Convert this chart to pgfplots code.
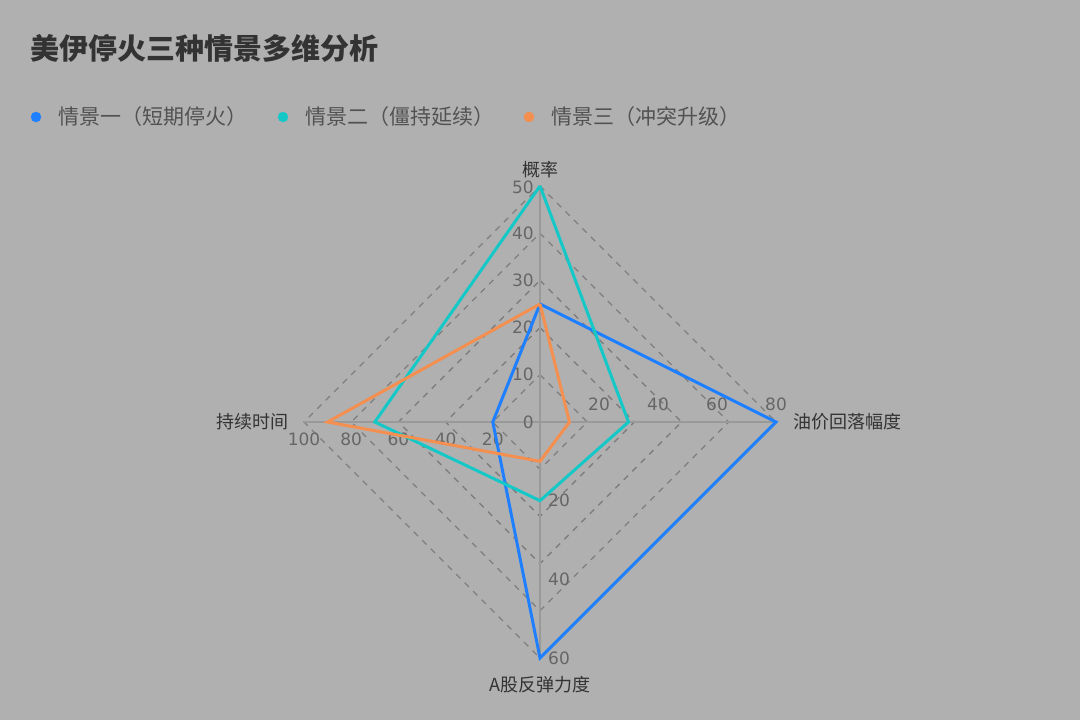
\documentclass[border=0pt]{standalone}
\usepackage{fontspec}
\setmainfont{Noto Sans CJK SC}
\newfontfamily\numfont{DejaVu Sans}
\usepackage{pgfplots}
\usepackage{pgfplotstable}
\pgfplotsset{compat=1.18}

\definecolor{bgc}{HTML}{B0B0B0}
\definecolor{sone}{HTML}{1F80FF}
\definecolor{stwo}{HTML}{14C8C8}
\definecolor{sthree}{HTML}{F58F50}
\definecolor{gridc}{HTML}{7E7E7E}
\definecolor{spoke}{HTML}{999999}
\definecolor{tickc}{HTML}{666666}
\definecolor{txtc}{HTML}{333333}

% angle (deg), value, axis maximum
\pgfplotstableread{
a v m
90 25 50
0 80 80
270 60 60
180 20 100
90 25 50
}\scenone
\pgfplotstableread{
a v m
90 50 50
0 30 80
270 20 60
180 70 100
90 50 50
}\scentwo
\pgfplotstableread{
a v m
90 25 50
0 10 80
270 10 60
180 90 100
90 25 50
}\scenthree

\pgfplotsset{radar/.style={mark=none, line width=3bp, line join=miter},
  radartab/.style={
  /pgfplots/table/x expr={540+236*\thisrow{v}/\thisrow{m}*cos(\thisrow{a})},
  /pgfplots/table/y expr={422-236*\thisrow{v}/\thisrow{m}*sin(\thisrow{a})}}}
\tikzset{
  ticklab/.style={inner sep=0pt, text=tickc, font=\numfont\fontsize{17bp}{20bp}\selectfont},
  axname/.style={inner sep=0pt, text=txtc, font=\fontsize{18bp}{21bp}\selectfont},
  legtxt/.style={inner sep=0pt, anchor=west, text=txtc!85!white, font=\fontsize{21bp}{25bp}\selectfont}}

\begin{document}
\begin{tikzpicture}
\begin{axis}[x=1bp, y=1bp, xmin=0, xmax=1080, ymin=0, ymax=720, y dir=reverse,
  hide axis, clip=false, anchor=south west, at={(0,0)}]
\fill[bgc] (axis cs:0,0) rectangle (axis cs:1080,720);

% dashed grid rings
\pgfplotsinvokeforeach{1,...,5}{
  \draw[gridc, line width=1.3bp, dash pattern=on 6bp off 6bp]
    (axis cs:540,{422-47.2*#1}) -- (axis cs:{540+47.2*#1},422) --
    (axis cs:540,{422+47.2*#1}) -- (axis cs:{540-47.2*#1},422) -- cycle;
}
% spokes
\draw[spoke, line width=1.2bp] (axis cs:540,186) -- (axis cs:540,658);
\draw[spoke, line width=1.2bp] (axis cs:304,422) -- (axis cs:776,422);

% tick labels
\node[ticklab, anchor=east] at (axis cs:534,422) {0};
\node[ticklab, anchor=east] at (axis cs:534,374.8) {10};
\node[ticklab, anchor=east] at (axis cs:534,327.6) {20};
\node[ticklab, anchor=east] at (axis cs:534,280.4) {30};
\node[ticklab, anchor=east] at (axis cs:534,233.2) {40};
\node[ticklab, anchor=east] at (axis cs:534,187) {50};
\node[ticklab, anchor=south] at (axis cs:599,411) {20};
\node[ticklab, anchor=south] at (axis cs:658,411) {40};
\node[ticklab, anchor=south] at (axis cs:717,411) {60};
\node[ticklab, anchor=south] at (axis cs:776,411) {80};
\node[ticklab, anchor=west] at (axis cs:548,500.7) {20};
\node[ticklab, anchor=west] at (axis cs:548,579.3) {40};
\node[ticklab, anchor=west] at (axis cs:548,658) {60};
\node[ticklab, anchor=north] at (axis cs:492.8,433) {20};
\node[ticklab, anchor=north] at (axis cs:445.6,433) {40};
\node[ticklab, anchor=north] at (axis cs:398.4,433) {60};
\node[ticklab, anchor=north] at (axis cs:351.2,433) {80};
\node[ticklab, anchor=north] at (axis cs:304,433) {100};

% axis names
\node[axname, anchor=south] at (axis cs:540,178) {概率};
\node[axname, anchor=west] at (axis cs:793,422) {油价回落幅度};
\node[axname, anchor=north] at (axis cs:540,676) {A股反弹力度};
\node[axname, anchor=east] at (axis cs:289,422) {持续时间};

\addplot[radar, sone] table[radartab] {\scenone};
\addplot[radar, stwo] table[radartab] {\scentwo};
\addplot[radar, sthree] table[radartab] {\scenthree};

% legend
\addplot[only marks, mark=*, mark size=5bp, sone, mark options={draw=none}] coordinates {(36,117)};
\addplot[only marks, mark=*, mark size=5bp, stwo, mark options={draw=none}] coordinates {(283,117)};
\addplot[only marks, mark=*, mark size=5bp, sthree, mark options={draw=none}] coordinates {(529,117)};
\node[legtxt] at (axis cs:58,117) {情景一（短期停火）};
\node[legtxt] at (axis cs:305,117) {情景二（僵持延续）};
\node[legtxt] at (axis cs:551,117) {情景三（冲突升级）};

% title
\node[anchor=west, inner sep=0pt, text=txtc, font=\bfseries\fontsize{29bp}{35bp}\selectfont]
  at (axis cs:30,48) {美伊停火三种情景多维分析};
\end{axis}
\end{tikzpicture}
\end{document}
